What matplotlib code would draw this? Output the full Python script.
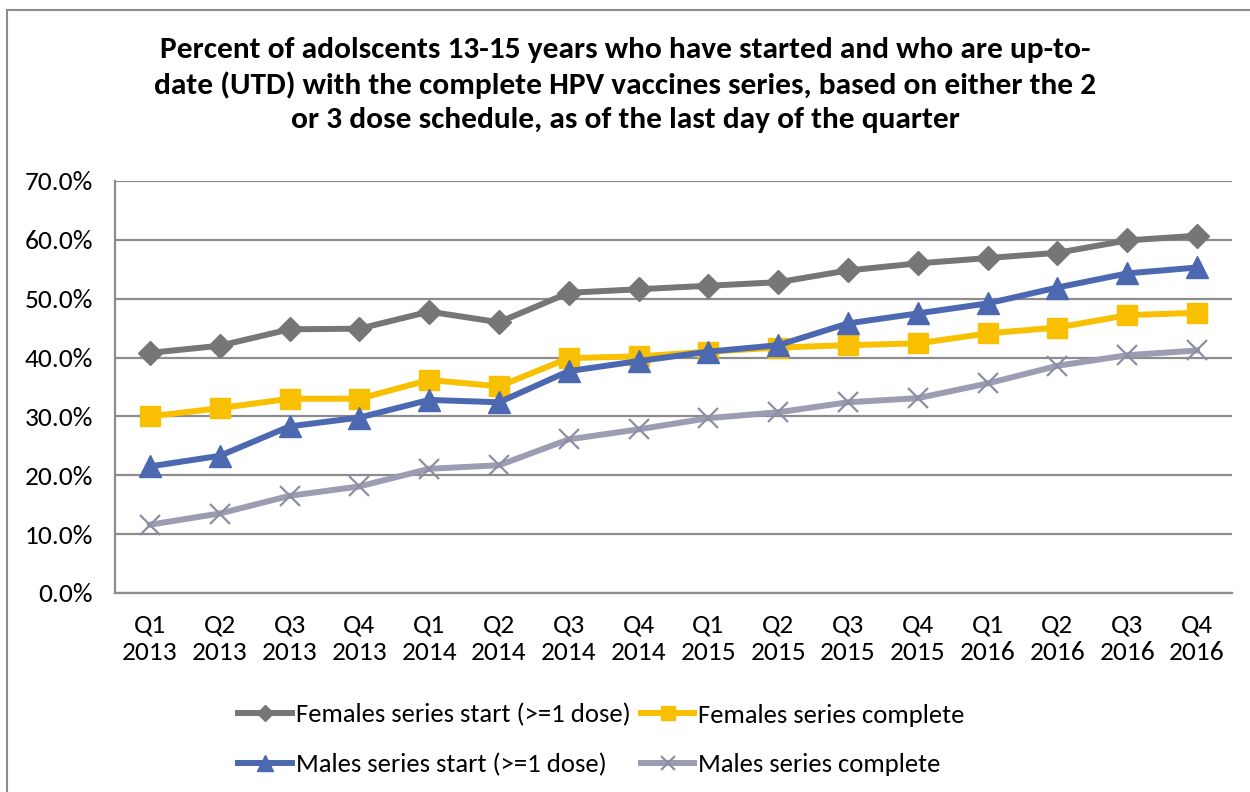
import matplotlib
matplotlib.use("Agg")
import matplotlib.pyplot as plt
from matplotlib import font_manager
from matplotlib.lines import Line2D
from matplotlib.ticker import FuncFormatter

quarters = ["Q1\n2013", "Q2\n2013", "Q3\n2013", "Q4\n2013",
            "Q1\n2014", "Q2\n2014", "Q3\n2014", "Q4\n2014",
            "Q1\n2015", "Q2\n2015", "Q3\n2015", "Q4\n2015",
            "Q1\n2016", "Q2\n2016", "Q3\n2016", "Q4\n2016"]

females_start = [40.8, 42.0, 44.8, 44.9, 47.8, 46.0, 51.0, 51.6,
                 52.2, 52.8, 54.8, 56.0, 56.9, 57.8, 59.9, 60.7]
females_complete = [30.0, 31.4, 33.0, 33.0, 36.2, 35.1, 39.9, 40.2,
                    41.0, 41.7, 42.1, 42.4, 44.1, 45.1, 47.2, 47.6]
males_start = [21.5, 23.3, 28.3, 29.8, 32.8, 32.4, 37.7, 39.4,
               41.0, 42.1, 45.8, 47.5, 49.2, 51.9, 54.3, 55.3]
males_complete = [11.6, 13.5, 16.5, 18.1, 21.1, 21.7, 26.1, 27.8,
                  29.7, 30.7, 32.4, 33.1, 35.6, 38.6, 40.4, 41.2]

title = ("Percent of adolscents 13-15 years who have started and who are up-to-\n"
         "date (UTD) with the complete HPV vaccines series, based on either the 2\n"
         "or 3 dose schedule, as of the last day of the quarter")

# Calibri look-alike if present, otherwise a humanist sans
installed = {f.name for f in font_manager.fontManager.ttflist}
scale = 1.0
for fam in ["Carlito", "Open Sans", "Liberation Sans"]:
    if fam in installed:
        break
if fam != "Carlito":
    scale = 0.86
plt.rcParams["font.family"] = [fam, "DejaVu Sans"]

fig = plt.figure(figsize=(12.5, 7.92), dpi=100)
ax = fig.add_axes([0.092, 0.2513, 0.8936, 0.5202])

x = list(range(len(quarters)))
l1, = ax.plot(x, females_start, color="#767676", lw=4.3, marker="D", ms=12,
              label="Females series start (>=1 dose)", zorder=4)
l2, = ax.plot(x, females_complete, color="#F8C000", lw=4.3, marker="s", ms=15,
              label="Females series complete", zorder=3)
l3, = ax.plot(x, males_start, color="#4B68B0", lw=4.3, marker="^", ms=16,
              label="Males series start (>=1 dose)", zorder=5)
l4, = ax.plot(x, males_complete, color="#9C9DB2", lw=4.3, marker="x", ms=15,
              mew=1.6, mec="#8D8EA4", label="Males series complete", zorder=2)

ax.set_xlim(-0.5, len(quarters) - 0.5)
ax.set_ylim(0, 70)
ax.set_yticks(range(0, 71, 10))
ax.yaxis.set_major_formatter(FuncFormatter(lambda v, p: f"{v:.1f}%"))
ax.set_xticks(x)
ax.set_xticklabels(quarters, linespacing=1.2)
ax.tick_params(axis="both", length=0, labelsize=19.7 * scale)
ax.tick_params(axis="y", pad=16)
ax.tick_params(axis="x", pad=15)

ax.grid(axis="y", color="#8c8c8c", lw=1.6)
ax.set_axisbelow(True)
for s in ["top", "right"]:
    ax.spines[s].set_visible(False)
for s in ["left", "bottom"]:
    ax.spines[s].set_color("#8c8c8c")
    ax.spines[s].set_linewidth(1.6)

fig.text(0.5, 1 - 37 / 792, title, ha="center", va="top", fontsize=22.6 * scale,
         fontweight="bold", linespacing=1.38)

fig.legend(handles=[l1, l3, l2, l4], ncol=2, loc="center",
           bbox_to_anchor=(0.4812, 1 - 740 / 792), frameon=False,
           fontsize=19.2 * scale, handlelength=2.0, handletextpad=0.15,
           columnspacing=0.4, labelspacing=1.0, markerscale=0.7)

# chart-area border (left and top edges visible in the crop)
fig.add_artist(Line2D([7 / 1250, 7 / 1250], [0, 1 - 10 / 792],
                      color="#8c8c8c", lw=1.5))
fig.add_artist(Line2D([7 / 1250, 1], [1 - 10 / 792, 1 - 10 / 792],
                      color="#8c8c8c", lw=1.5))

fig.savefig("out.png", dpi=100)
